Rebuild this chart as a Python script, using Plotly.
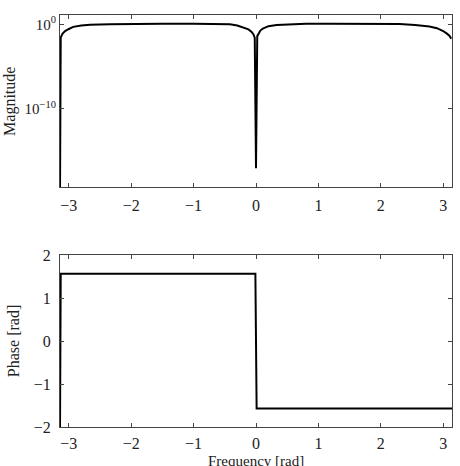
import plotly.graph_objects as go
from plotly.subplots import make_subplots
import math

PI = math.pi

# Magnitude response
mag_freq = [-PI, -3.13, -3.10, -3.06, -3.00, -2.93, -2.80, -2.66, -2.34, -2.00,
            -1.50, -1.00, -0.60, -0.42, -0.30, -0.18, -0.12, -0.07, -0.04, -0.02,
            0.0, 0.02, 0.04, 0.07, 0.11, 0.20, 0.33, 0.50, 0.80, 1.20,
            1.60, 2.00, 2.30, 2.55, 2.78, 2.90, 3.00, 3.06, 3.10, 3.13]
mag_vals = [1e-20, 2.8e-2, 7.9e-2, 0.16, 0.28, 0.50, 0.71, 0.87, 1.05, 1.15,
            1.2, 1.2, 1.1, 1.0, 0.71, 0.40, 0.25, 0.126, 0.063, 0.025,
            1e-17, 0.04, 0.079, 0.18, 0.32, 0.60, 0.83, 1.0, 1.15, 1.2,
            1.23, 1.17, 1.07, 0.83, 0.54, 0.35, 0.16, 0.079, 0.045, 0.02]

# Phase response
ph_freq = [-PI, -3.13, -0.01, 0.01, PI]
ph_vals = [-2.0, 1.5708, 1.5708, -1.5708, -1.5708]

x_ticks = [-3, -2, -1, 0, 1, 2, 3]
mag_tickvals = [1, 1e-10]
mag_ticktext = ["10<sup>0</sup>", "10<sup>−10</sup>"]
ph_ticks = [-2, -1, 0, 1, 2]

FONT = "Liberation Serif, Times New Roman, serif"
TXT = "#222"

fig = make_subplots(rows=2, cols=1, vertical_spacing=0.165)
fig.add_trace(go.Scatter(x=mag_freq, y=mag_vals, mode="lines",
                         line=dict(color="black", width=2)), row=1, col=1)
fig.add_trace(go.Scatter(x=ph_freq, y=ph_vals, mode="lines",
                         line=dict(color="black", width=2)), row=2, col=1)

axis_common = dict(showline=True, linecolor="#444", linewidth=1.2, mirror="ticks",
                   ticks="inside", ticklen=4, tickcolor="#444", showgrid=False,
                   zeroline=False, automargin=False,
                   tickfont=dict(family=FONT, size=16, color=TXT))

fig.update_xaxes(range=[-PI, PI], tickvals=x_ticks, ticklabelstandoff=3, **axis_common)
fig.update_xaxes(ticklabelstandoff=2, row=2, col=1)
fig.update_yaxes(type="log", range=[-19.25, 1.1], tickvals=mag_tickvals, ticktext=mag_ticktext,
                 ticklabelstandoff=0, row=1, col=1,
                 **{**axis_common, "tickfont": dict(family=FONT, size=15, color=TXT)})
fig.update_yaxes(range=[-2, 2], tickvals=ph_ticks, ticklabelstandoff=5,
                 row=2, col=1, **axis_common)

title_font = dict(family=FONT, size=16, color=TXT)
fig.add_annotation(text="Frequency [rad]", xref="paper", yref="paper", x=0.5, y=-0.082,
                   xanchor="center", yanchor="middle", showarrow=False,
                   font=dict(family=FONT, size=15, color=TXT))
fig.add_annotation(text="Magnitude", xref="paper", yref="paper", x=-0.128, y=0.791,
                   xanchor="center", yanchor="middle", textangle=-90, showarrow=False, font=title_font)
fig.add_annotation(text="Phase [rad]", xref="paper", yref="paper", x=-0.12, y=0.2083,
                   xanchor="center", yanchor="middle", textangle=-90, showarrow=False, font=title_font)

fig.update_layout(width=460, height=466, showlegend=False,
                  margin=dict(l=60, r=8, t=15, b=39),
                  paper_bgcolor="white", plot_bgcolor="white",
                  font=dict(family=FONT))
fig.layout.yaxis.domain = [0.582, 1.0]
fig.layout.yaxis2.domain = [0.0, 0.4167]

fig.write_html("out.html")
